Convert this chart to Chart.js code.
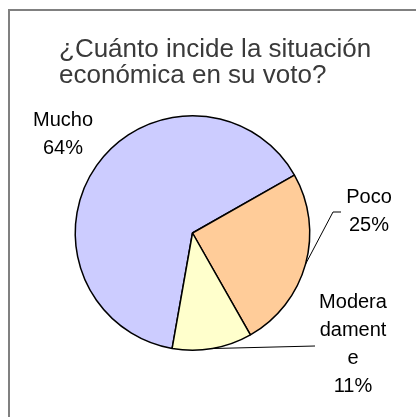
<!DOCTYPE html>
<html lang="es">
  <head>
    <meta charset="UTF-8" />
    <title>Situación económica y voto</title>
    <script src="https://cdn.jsdelivr.net/npm/chart.js"></script>
    <style>
      body { margin: 0; background: #fff; }
      canvas { display: block; }
    </style>
  </head>
  <body>
    <canvas id="pieChart" width="416" height="417"></canvas>

    <script>
      // data
      const titleLines = ["¿Cuánto incide la situación", "económica en su voto?"];
      const categories = ["Mucho", "Poco", "Moderadamente"];
      const percents = [64, 25, 11];
      const sliceColors = ["#CCCCFF", "#FFCC99", "#FFFFCC"];

      // where each label block sits (x centre, first baseline) and leader bend
      const labelPos = [
        { x: 63, y: 126, leader: null },
        { x: 369, y: 203, leader: [[333, 212], [341, 212]] },
        { x: 353, y: 308, leader: [[315, 346]] }
      ];

      // Excel wraps the long name every 6 characters
      function wrapName(name) {
        const out = [];
        for (let i = 0; i < name.length; i += 6) out.push(name.slice(i, i + 6));
        return out;
      }

      const decorations = {
        id: "decorations",
        beforeDraw(chart) {
          const ctx = chart.ctx;
          ctx.save();
          ctx.strokeStyle = "#808080";
          ctx.lineWidth = 2;
          ctx.strokeRect(9, 10, 430, 430); // frame, right/bottom fall outside
          ctx.fillStyle = "#3a3a3a";
          ctx.font = "26px 'Liberation Sans', Arial, sans-serif";
          ctx.textBaseline = "alphabetic";
          ctx.textAlign = "left";
          titleLines.forEach((t, i) => ctx.fillText(t, 59, 57 + i * 26));
          ctx.restore();
        },
        afterDatasetsDraw(chart) {
          const ctx = chart.ctx;
          const arcs = chart.getDatasetMeta(0).data;
          ctx.save();
          ctx.font = "20px 'Liberation Sans', Arial, sans-serif";
          ctx.fillStyle = "#000";
          ctx.textAlign = "center";
          ctx.textBaseline = "alphabetic";
          categories.forEach((name, i) => {
            const p = labelPos[i];
            const lines = wrapName(name).concat([percents[i] + "%"]);
            lines.forEach((l, j) => ctx.fillText(l, p.x, p.y + j * 28));
            if (p.leader) {
              const a = arcs[i];
              const mid = (a.startAngle + a.endAngle) / 2;
              ctx.beginPath();
              ctx.moveTo(a.x + Math.cos(mid) * a.outerRadius, a.y + Math.sin(mid) * a.outerRadius);
              p.leader.forEach(([lx, ly]) => ctx.lineTo(lx, ly));
              ctx.strokeStyle = "#000";
              ctx.lineWidth = 1;
              ctx.stroke();
            }
          });
          ctx.restore();
        }
      };

      new Chart(document.getElementById("pieChart"), {
        type: "pie",
        data: {
          labels: categories,
          datasets: [
            {
              data: percents,
              backgroundColor: sliceColors,
              borderColor: "#000",
              borderWidth: 1.5
            }
          ]
        },
        options: {
          responsive: false,
          animation: false,
          rotation: 190,
          layout: { padding: { left: 74.5, right: 105.5, top: 115, bottom: 66 } },
          plugins: {
            legend: { display: false },
            tooltip: { enabled: false }
          }
        },
        plugins: [decorations]
      });
    </script>
  </body>
</html>
